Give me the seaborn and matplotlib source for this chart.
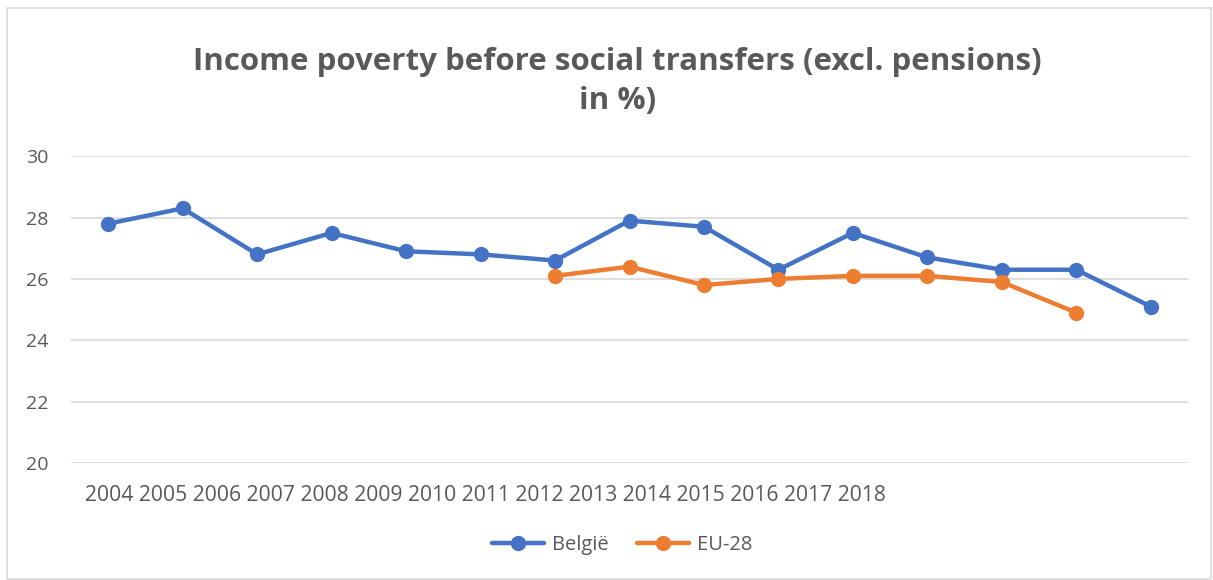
import pandas as pd
import seaborn as sns
import matplotlib.pyplot as plt
from matplotlib.patches import Rectangle

years = ["2004", "2005", "2006", "2007", "2008", "2009", "2010", "2011",
         "2012", "2013", "2014", "2015", "2016", "2017", "2018"]
belgie = [27.8, 28.3, 26.8, 27.5, 26.9, 26.8, 26.6, 27.9, 27.7, 26.3,
          27.5, 26.7, 26.3, 26.3, 25.1]
eu28 = [None, None, None, None, None, None, 26.1, 26.4, 25.8, 26.0,
        26.1, 26.1, 25.9, 24.9, None]

df = pd.DataFrame({
    "pos": list(range(len(belgie))) * 2,
    "value": belgie + eu28,
    "serie": ["België"] * len(belgie) + ["EU-28"] * len(eu28),
}).dropna()

sns.set_theme(style="white")
plt.rcParams["font.family"] = ["Open Sans", "DejaVu Sans"]
grey = "#595959"

fig = plt.figure(figsize=(12.13, 5.8), dpi=100)
ax = fig.add_axes([71 / 1213, 0.2017, 1117 / 1213, 0.529])

sns.lineplot(data=df, x="pos", y="value", hue="serie",
             palette={"België": "#4472C4", "EU-28": "#ED7D31"},
             marker="o", markersize=11, markeredgewidth=0, linewidth=3.2,
             ax=ax, legend=True)

ax.set_xlim(-0.5, 14.5)
ax.set_ylim(20, 30)
ax.set_yticks([20, 22, 24, 26, 28, 30])
ax.set_xticks([])
ax.set_xlabel("")
ax.set_ylabel("")
ax.grid(axis="y", color="#D9D9D9", linewidth=1.2)
ax.set_axisbelow(True)
for s in ax.spines.values():
    s.set_visible(False)
ax.tick_params(axis="y", length=0, pad=16, labelsize=14, labelcolor=grey)

# jaartallen als één reeks onder de as
ax.text(85 / 1213, 0.1465, " ".join(years), transform=fig.transFigure,
        ha="left", va="center", fontsize=15.2, color=grey)

fig.text(0.509, 0.86, "Income poverty before social transfers (excl. pensions)\nin %)",
         ha="center", va="center", fontsize=22.5, fontweight="bold", color=grey,
         linespacing=1.4)

leg = ax.legend(loc="center", bbox_to_anchor=(0.513, 0.06), bbox_transform=fig.transFigure,
                ncol=2, frameon=False, fontsize=14.5, handlelength=2.6,
                columnspacing=1.4, handletextpad=0.4)
for t in leg.get_texts():
    t.set_color(grey)

fig.patches.append(Rectangle((7 / 1213, 0.002), 1 - 9 / 1213, 0.985,
                             transform=fig.transFigure, fill=False,
                             edgecolor="#D9D9D9", linewidth=1.2))

fig.savefig("out.png", dpi=100, facecolor="white")
